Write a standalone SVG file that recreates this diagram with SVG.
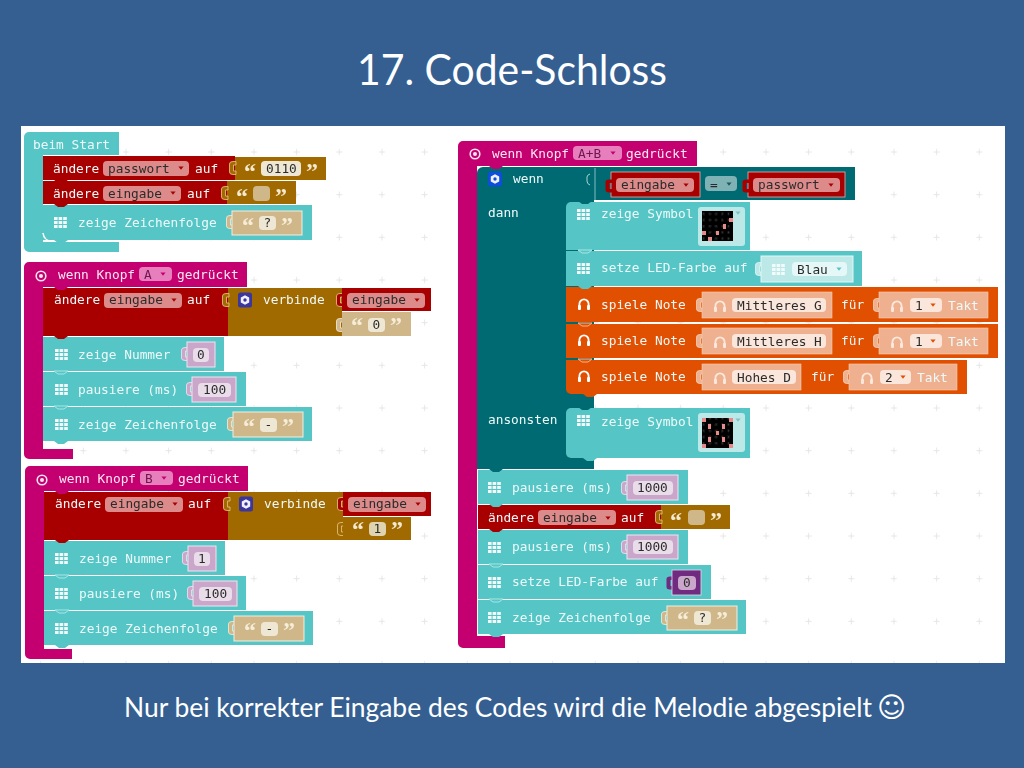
<svg xmlns="http://www.w3.org/2000/svg" width="1024" height="768" viewBox="0 0 1024 768">
<style>
text{font-family:"DejaVu Sans Mono","Liberation Mono",monospace;font-size:12.8px}
.l{fill:#eefafa}
.d{fill:#2c2c2c}
.pk{fill:#f9e6f2}
.q{font-family:"Liberation Serif",serif;font-weight:bold;font-size:24px;fill:#f4ead2}
.qd{font-family:"Liberation Serif",serif;font-weight:bold;font-size:24px;fill:#f6edd8}
.slide{font-family:Lato,"Open Sans",sans-serif;fill:#fff}
.teal{fill:#55c5c6}
.red{fill:#a80000}
.brown{fill:#a06b03}
.tan{fill:#cfb78a;stroke:#f2eee0;stroke-width:1}
.tanp{fill:#cfb78a}
.mag{fill:#c4006f}
.dk{fill:#006b72}
.or{fill:#e14f02}
.pink{fill:#dc8a8a}
.pill{fill:#eee7d3}
.pill2{fill:#e9dde9}
.pur{fill:#c9a6ca;stroke:#f0e6f0;stroke-width:1}
.sal{fill:#eeb08e;stroke:#f6d0b8;stroke-width:.6}
.salp{fill:#fae6da}
.led{fill:#e98a8a}
</style>
<defs>
<filter id="soft" x="0" y="0" width="100%" height="100%"><feGaussianBlur stdDeviation="0.35"/></filter>
<pattern id="plus" width="42.667" height="42.667" patternUnits="userSpaceOnUse" patternTransform="translate(19.3 2.67)">
<path d="M21.33 18.3v6M18.3 21.33h6" stroke="#e6e6e6" stroke-width="1" fill="none"/>
</pattern>
<pattern id="ledoff" width="6.2" height="6.2" patternUnits="userSpaceOnUse">
<rect x="2.4" y="2" width="1.4" height="2" fill="#3a3a3a"/>
</pattern>
<g id="gi" fill="#f2fbfb"><rect x="0" y="0" width="3.6" height="3"/><rect x="4.6" y="0" width="3.6" height="3"/><rect x="9.2" y="0" width="3.6" height="3"/><rect x="0" y="4" width="3.6" height="3"/><rect x="4.6" y="4" width="3.6" height="3"/><rect x="9.2" y="4" width="3.6" height="3"/><rect x="0" y="8" width="3.6" height="3"/><rect x="4.6" y="8" width="3.6" height="3"/><rect x="9.2" y="8" width="3.6" height="3"/></g>
<g id="hp"><path d="M-4.6 3V0a4.6 4.6 0 0 1 9.2 0V3" stroke-width="1.8" fill="none"/><rect x="-6" y="1" width="3" height="5" rx="1" stroke="none"/><rect x="3" y="1" width="3" height="5" rx="1" stroke="none"/></g>
<path id="nip" d="M2 0 6 3H12L16 0Z"/>
<path id="tab" d="M1-6.500H-2Q-5.500-6.500-5.500-4V4Q-5.500 6.500-2 6.500H1V3H-1.500V-3H1Z"/>
<path id="ar" d="M-2.600-1.600H2.600L0 1.800Z"/>
<g id="tgt"><circle r="4.800" fill="none" stroke="#f9e6f2" stroke-width="1.600"/><circle r="2" fill="#f9e6f2"/></g>
<g id="gear"><rect x="-7" y="-7.500" width="14" height="15" rx="2.500"/><path d="M0-4.800 4.200-2.400V2.400L0 4.800-4.200 2.400V-2.400Z" fill="#f0f0ff"/><circle r="1.700"/></g>
</defs>

<rect id="background" width="1024" height="768" fill="#355f91"/>
<text id="title" class="slide" x="357" y="85" textLength="310" lengthAdjust="spacingAndGlyphs" style="font-size:42px">17. Code-Schloss</text>
<g id="panel">
<rect x="21" y="126" width="984" height="537" fill="#fff"/>
<rect x="21" y="126" width="984" height="537" fill="url(#plus)"/>
</g>

<g id="blocks" filter="url(#soft)">
<g id="start">
<path class="teal" d="M24 137a5 5 0 0 1 5-5H119V155H43V242H119V252H29a5 5 0 0 1-5-5Z"/>
<text class="l" x="33" y="149">beim Start</text>
<rect class="red" x="43" y="156" width="192" height="24"/>
<rect class="brown" x="235" y="157" width="91" height="23"/>
<rect class="pink" x="103" y="161" width="86" height="15" rx="4"/>
<text class="l" x="53" y="173">ändere</text><text class="d" x="108" y="173">passwort</text><use href="#ar" x="181" y="168" fill="#a80000"/><text class="l" x="195" y="173">auf</text>
<use href="#tab" x="235" y="168" fill="#a06b03" stroke="#e8c88a" stroke-width=".8"/>
<text class="q" x="244" y="179">“</text><rect class="pill" x="261" y="161" width="40" height="15" rx="4"/><text class="d" x="266" y="173">0110</text><text class="q" x="306" y="179">”</text>
<rect class="red" x="43" y="181" width="184" height="23"/>
<rect class="brown" x="227" y="181" width="69" height="23"/>
<rect class="pink" x="103" y="186" width="78" height="15" rx="4"/>
<text class="l" x="53" y="198">ändere</text><text class="d" x="108" y="198">eingabe</text><use href="#ar" x="173" y="193" fill="#a80000"/><text class="l" x="187" y="198">auf</text>
<use href="#tab" x="227" y="193" fill="#a06b03" stroke="#e8c88a" stroke-width=".8"/>
<text class="q" x="236" y="204">“</text><rect class="pill" x="253" y="186" width="17" height="15" rx="4" style="fill:#cfb78a"/><text class="q" x="275" y="204">”</text>
<use href="#nip" x="52" y="180" fill="#a80000"/>
<rect class="teal" x="43" y="205" width="269" height="35"/>
<use href="#nip" x="52" y="204" fill="#a80000"/>
<use href="#gi" x="54" y="217"/>
<text class="l" x="78" y="227">zeige Zeichenfolge</text>
<use href="#tab" x="232" y="222" fill="#cfb78a" stroke="#f2eee0" stroke-width=".8"/>
<rect class="tan" x="232" y="211" width="70" height="24"/>
<text class="qd" x="242" y="233">“</text><rect class="pill" x="259" y="216" width="17" height="14" rx="4"/><text class="d" x="263.500" y="227">?</text><text class="qd" x="281" y="233">”</text>
<path d="M43 233Q44 241 52 241H60" fill="none" stroke="#fff" stroke-width="1.500"/>
<use href="#nip" x="52" y="240" fill="#55c5c6"/>
</g>

<g id="knopf-a">
<path class="mag" d="M24 267a5 5 0 0 1 5-5H247V287H43V449H73V459H29a5 5 0 0 1-5-5Z"/>
<use href="#tgt" x="41" y="276"/>
<text class="pk" x="58" y="279">wenn Knopf</text>
<rect x="139" y="267" width="33" height="14" rx="4" fill="#e87fbd"/><text x="144" y="279" fill="#70164f">A</text><use href="#ar" x="163" y="274" fill="#c4006f"/>
<text class="pk" x="177" y="279">gedrückt</text>
<rect class="red" x="43" y="288" width="185" height="48"/>
<rect class="brown" x="228" y="288" width="114" height="48"/>
<use href="#nip" x="52" y="287" fill="#c4006f"/>
<rect class="pink" x="104" y="293" width="78" height="15" rx="4"/>
<text class="l" x="54" y="304">ändere</text><text class="d" x="109" y="304">eingabe</text><use href="#ar" x="174" y="300" fill="#a80000"/><text class="l" x="187" y="304">auf</text>
<use href="#tab" x="228" y="300" fill="#a06b03" stroke="#e8c88a" stroke-width=".8"/>
<use href="#gear" x="245" y="300" fill="#3a349e"/>
<text class="l" x="263" y="304">verbinde</text>
<use href="#tab" x="342" y="300" fill="#a80000" stroke="#e8c88a" stroke-width=".8"/>
<rect class="red" x="342" y="288" width="89" height="23"/>
<rect class="pink" x="347" y="293" width="78" height="15" rx="4"/>
<text class="d" x="352" y="304">eingabe</text><use href="#ar" x="417" y="300" fill="#a80000"/>
<use href="#tab" x="342" y="325" fill="#cfb78a" stroke="#f2eee0" stroke-width=".8"/>
<rect class="tanp" x="342" y="312" width="69" height="24"/>
<text class="qd" x="351" y="333">“</text><rect class="pill" x="368" y="318" width="17" height="14" rx="4"/><text class="d" x="372.500" y="329">0</text><text class="qd" x="390" y="333">”</text>
<rect class="teal" x="43" y="337" width="181" height="34"/>
<use href="#nip" x="52" y="336" fill="#a80000"/>
<use href="#gi" x="55" y="349"/>
<text class="l" x="78" y="359">zeige Nummer</text>
<use href="#tab" x="187" y="354" fill="#c9a6ca" stroke="#f0e6f0" stroke-width=".8"/>
<rect class="pur" x="187" y="342" width="28" height="25"/><rect class="pill2" x="193" y="348" width="16" height="14" rx="4"/><text class="d" x="197" y="359">0</text>
<rect class="teal" x="43" y="372" width="203" height="34"/>
<use href="#nip" x="52" y="371" fill="#55c5c6" stroke="#a9e6e6"/>
<use href="#gi" x="55" y="384"/>
<text class="l" x="78" y="394">pausiere (ms)</text>
<use href="#tab" x="192" y="389" fill="#c9a6ca" stroke="#f0e6f0" stroke-width=".8"/>
<rect class="pur" x="192" y="377" width="44" height="25"/><rect class="pill2" x="198" y="383" width="33" height="14" rx="4"/><text class="d" x="203" y="394">100</text>
<rect class="teal" x="43" y="407" width="269" height="34"/>
<use href="#nip" x="52" y="406" fill="#55c5c6" stroke="#a9e6e6"/>
<use href="#gi" x="55" y="419"/>
<text class="l" x="78" y="429">zeige Zeichenfolge</text>
<use href="#tab" x="233" y="424" fill="#cfb78a" stroke="#f2eee0" stroke-width=".8"/>
<rect class="tan" x="233" y="412" width="70" height="25"/>
<text class="qd" x="243" y="434">“</text><rect class="pill" x="260" y="418" width="17" height="14" rx="4"/><text class="d" x="264.500" y="429">-</text><text class="qd" x="282" y="434">”</text>
<use href="#nip" x="52" y="441" fill="#55c5c6"/>
</g>

<g id="knopf-b">
<path class="mag" d="M25 471a5 5 0 0 1 5-5H248V491H44V649H72V659H30a5 5 0 0 1-5-5Z"/>
<use href="#tgt" x="42" y="480"/>
<text class="pk" x="59" y="483">wenn Knopf</text>
<rect x="140" y="471" width="33" height="14" rx="4" fill="#e87fbd"/><text x="145" y="483" fill="#70164f">B</text><use href="#ar" x="164" y="478" fill="#c4006f"/>
<text class="pk" x="178" y="483">gedrückt</text>
<rect class="red" x="44" y="492" width="184" height="48"/>
<rect class="brown" x="228" y="492" width="115" height="48"/>
<use href="#nip" x="53" y="491" fill="#c4006f"/>
<rect class="pink" x="105" y="497" width="78" height="15" rx="4"/>
<text class="l" x="55" y="508">ändere</text><text class="d" x="110" y="508">eingabe</text><use href="#ar" x="175" y="504" fill="#a80000"/><text class="l" x="188" y="508">auf</text>
<use href="#tab" x="229" y="504" fill="#a06b03" stroke="#e8c88a" stroke-width=".8"/>
<use href="#gear" x="246" y="504" fill="#3a349e"/>
<text class="l" x="264" y="508">verbinde</text>
<use href="#tab" x="343" y="504" fill="#a80000" stroke="#e8c88a" stroke-width=".8"/>
<rect class="red" x="343" y="492" width="88" height="24"/>
<rect class="pink" x="348" y="497" width="78" height="15" rx="4"/>
<text class="d" x="353" y="508">eingabe</text><use href="#ar" x="418" y="504" fill="#a80000"/>
<use href="#tab" x="343" y="529" fill="#a06b03" stroke="#e8c88a" stroke-width=".8"/>
<rect class="brown" x="343" y="517" width="68" height="23"/>
<text class="q" x="352" y="537">“</text><rect class="pill" x="369" y="522" width="17" height="14" rx="4" style="fill:#e0d4b0"/><text class="d" x="373.500" y="533">1</text><text class="q" x="391" y="537">”</text>
<rect class="teal" x="44" y="541" width="181" height="34"/>
<use href="#nip" x="53" y="540" fill="#a80000"/>
<use href="#gi" x="55" y="553"/>
<text class="l" x="79" y="563">zeige Nummer</text>
<use href="#tab" x="188" y="558" fill="#c9a6ca" stroke="#f0e6f0" stroke-width=".8"/>
<rect class="pur" x="188" y="546" width="28" height="25"/><rect class="pill2" x="194" y="552" width="16" height="14" rx="4"/><text class="d" x="198" y="563">1</text>
<rect class="teal" x="44" y="576" width="202" height="34"/>
<use href="#nip" x="53" y="575" fill="#55c5c6" stroke="#a9e6e6"/>
<use href="#gi" x="55" y="588"/>
<text class="l" x="79" y="598">pausiere (ms)</text>
<use href="#tab" x="193" y="593" fill="#c9a6ca" stroke="#f0e6f0" stroke-width=".8"/>
<rect class="pur" x="193" y="581" width="44" height="25"/><rect class="pill2" x="199" y="587" width="33" height="14" rx="4"/><text class="d" x="204" y="598">100</text>
<rect class="teal" x="44" y="611" width="269" height="34"/>
<use href="#nip" x="53" y="610" fill="#55c5c6" stroke="#a9e6e6"/>
<use href="#gi" x="55" y="623"/>
<text class="l" x="79" y="633">zeige Zeichenfolge</text>
<use href="#tab" x="234" y="628" fill="#cfb78a" stroke="#f2eee0" stroke-width=".8"/>
<rect class="tan" x="234" y="616" width="70" height="25"/>
<text class="qd" x="244" y="638">“</text><rect class="pill" x="261" y="622" width="17" height="14" rx="4"/><text class="d" x="265.500" y="633">-</text><text class="qd" x="283" y="638">”</text>
<use href="#nip" x="53" y="645" fill="#55c5c6"/>
</g>

<g id="knopf-ab">
<path class="mag" d="M458 146a5 5 0 0 1 5-5H697V166H477V636H505V648H463a5 5 0 0 1-5-5Z"/>
<use href="#tgt" x="475" y="154"/>
<text class="pk" x="492" y="158">wenn Knopf</text>
<rect x="573" y="146" width="49" height="14" rx="4" fill="#e87fbd"/><text x="578" y="158" fill="#70164f">A+B</text><use href="#ar" x="613" y="153" fill="#c4006f"/>
<text class="pk" x="626" y="158">gedrückt</text>
</g>

<g id="wenn">
<path class="dk" d="M483 167H855V200H594V469H477V173a6 6 0 0 1 6-6Z"/>
<use href="#nip" x="487" y="166" fill="#c4006f"/>
<path d="M595 168V200" stroke="#9fd0d0" stroke-width=".8"/>
<use href="#gear" x="495" y="179" fill="#0a4fd8"/>
<text class="l" x="513" y="183">wenn</text>
<path d="M590 174q-3 1-3 3v4q0 3 3 4" fill="none" stroke="#a9d4d4" stroke-width="1"/>
<rect class="red" x="611" y="172" width="89" height="25" stroke="#e3b0b0" stroke-width=".8"/>
<use href="#tab" x="611" y="186" fill="#a80000"/>
<rect class="pink" x="616" y="178" width="78" height="14" rx="4"/><text class="d" x="621" y="189">eingabe</text><use href="#ar" x="686" y="185" fill="#a80000"/>
<rect x="705" y="176" width="32" height="15" rx="4" fill="#7fb2b5"/><text class="d" x="710" y="189">=</text><use href="#ar" x="729" y="184" fill="#20595f"/>
<rect class="red" x="748" y="172" width="97" height="25" stroke="#e3b0b0" stroke-width=".8"/>
<use href="#tab" x="748" y="186" fill="#a80000"/>
<rect class="pink" x="753" y="178" width="87" height="14" rx="4"/><text class="d" x="758" y="189">passwort</text><use href="#ar" x="831" y="185" fill="#a80000"/>
<text class="l" x="488" y="217">dann</text>
<text class="l" x="488" y="424">ansonsten</text>
</g>

<g id="symbol-1">
<path class="teal" d="M571 202H750V250H566V207a5 5 0 0 1 5-5Z"/>
<use href="#nip" x="576" y="201" fill="#006b72"/>
<use href="#gi" x="577" y="209"/>
<text class="l" x="601" y="218">zeige Symbol</text>
<rect x="698" y="207" width="47" height="39" rx="3" fill="#bce8e8"/>
<rect x="702" y="211" width="31" height="30" fill="#050505"/>
<rect x="702" y="211" width="31" height="30" fill="url(#ledoff)"/>
<rect class="led" x="729" y="218" width="4" height="4"/><rect class="led" x="723" y="224" width="3" height="5"/><rect class="led" x="702" y="231" width="4" height="4"/><rect class="led" x="716" y="231" width="3" height="4"/><rect class="led" x="708" y="237" width="4" height="4"/>
<use href="#ar" x="738" y="213" fill="#7cc4c4"/>
</g>
<g id="led-blau">
<rect class="teal" x="566" y="251" width="296" height="35"/>
<use href="#nip" x="576" y="250" fill="#55c5c6" stroke="#a9e6e6"/>
<use href="#gi" x="577" y="263"/>
<text class="l" x="601" y="272">setze LED-Farbe auf</text>
<use href="#tab" x="761" y="269" fill="#bce8e8" stroke="#e0f6f6" stroke-width=".8"/>
<rect x="761" y="256" width="92" height="26" fill="#bce8e8" stroke="#e4f8f8"/>
<use href="#gi" x="772" y="264"/>
<rect x="792" y="262" width="55" height="14" rx="4" fill="#e6f7f7"/><text class="d" x="797" y="274">Blau</text><use href="#ar" x="839" y="269" fill="#55c5c6"/>
</g>
<g id="note-g">
<rect class="or" x="566" y="287" width="432" height="35"/>
<use href="#nip" x="576" y="286" fill="#55c5c6"/>
<use href="#hp" x="584" y="304" stroke="#fff" fill="#fff"/>
<text class="l" x="601" y="309">spiele Note</text>
<use href="#tab" x="702" y="305" fill="#eeb08e" stroke="#f6d0b8" stroke-width=".8"/>
<rect class="sal" x="702" y="292" width="130" height="26"/>
<use href="#hp" x="720" y="306" stroke="#fbe8dc" fill="#fbe8dc"/>
<rect class="salp" x="732" y="298" width="94" height="14" rx="4"/><text class="d" x="737" y="310">Mittleres G</text>
<text class="l" x="841" y="309">für</text>
<use href="#tab" x="879" y="305" fill="#eeb08e" stroke="#f6d0b8" stroke-width=".8"/>
<rect class="sal" x="879" y="292" width="109" height="26"/>
<use href="#hp" x="897" y="306" stroke="#fbe8dc" fill="#fbe8dc"/>
<rect class="salp" x="910" y="298" width="32" height="14" rx="4"/><text class="d" x="915" y="310">1</text><use href="#ar" x="933" y="305" fill="#e14f02"/>
<text class="l" x="948" y="310">Takt</text>
</g>
<g id="note-h">
<rect class="or" x="566" y="324" width="432" height="34"/>
<use href="#nip" x="576" y="323" fill="#e14f02" stroke="#f7b48c"/>
<use href="#hp" x="584" y="340" stroke="#fff" fill="#fff"/>
<text class="l" x="601" y="345">spiele Note</text>
<use href="#tab" x="702" y="341" fill="#eeb08e" stroke="#f6d0b8" stroke-width=".8"/>
<rect class="sal" x="702" y="328" width="130" height="26"/>
<use href="#hp" x="720" y="342" stroke="#fbe8dc" fill="#fbe8dc"/>
<rect class="salp" x="732" y="334" width="94" height="14" rx="4"/><text class="d" x="737" y="346">Mittleres H</text>
<text class="l" x="841" y="345">für</text>
<use href="#tab" x="879" y="341" fill="#eeb08e" stroke="#f6d0b8" stroke-width=".8"/>
<rect class="sal" x="879" y="328" width="109" height="26"/>
<use href="#hp" x="897" y="342" stroke="#fbe8dc" fill="#fbe8dc"/>
<rect class="salp" x="910" y="334" width="32" height="14" rx="4"/><text class="d" x="915" y="346">1</text><use href="#ar" x="933" y="341" fill="#e14f02"/>
<text class="l" x="948" y="346">Takt</text>
</g>
<g id="note-d">
<path class="or" d="M566 360H967V394H571a5 5 0 0 1-5-5Z"/>
<use href="#nip" x="576" y="359" fill="#e14f02" stroke="#f7b48c"/>
<use href="#nip" x="581" y="394" fill="#e14f02"/>
<use href="#hp" x="584" y="376" stroke="#fff" fill="#fff"/>
<text class="l" x="601" y="381">spiele Note</text>
<use href="#tab" x="702" y="377" fill="#eeb08e" stroke="#f6d0b8" stroke-width=".8"/>
<rect class="sal" x="702" y="364" width="99" height="26"/>
<use href="#hp" x="720" y="378" stroke="#fbe8dc" fill="#fbe8dc"/>
<rect class="salp" x="732" y="370" width="64" height="14" rx="4"/><text class="d" x="737" y="382">Hohes D</text>
<text class="l" x="811" y="381">für</text>
<use href="#tab" x="849" y="377" fill="#eeb08e" stroke="#f6d0b8" stroke-width=".8"/>
<rect class="sal" x="849" y="364" width="108" height="26"/>
<use href="#hp" x="867" y="378" stroke="#fbe8dc" fill="#fbe8dc"/>
<rect class="salp" x="880" y="370" width="31" height="14" rx="4"/><text class="d" x="885" y="382">2</text><use href="#ar" x="903" y="377" fill="#e14f02"/>
<text class="l" x="917" y="382">Takt</text>
</g>
<g id="symbol-2">
<path class="teal" d="M571 408H750V458H571a5 5 0 0 1-5-5V413a5 5 0 0 1 5-5Z"/>
<use href="#nip" x="576" y="407" fill="#006b72"/>
<use href="#nip" x="581" y="458" fill="#55c5c6"/>
<use href="#gi" x="577" y="415"/>
<text class="l" x="601" y="426">zeige Symbol</text>
<rect x="698" y="413" width="47" height="39" rx="3" fill="#bce8e8"/>
<rect x="702" y="418" width="31" height="30" fill="#050505"/>
<rect x="702" y="418" width="31" height="30" fill="url(#ledoff)"/>
<rect class="led" x="702" y="418" width="4" height="4"/><rect class="led" x="729" y="418" width="4" height="4"/><rect class="led" x="708" y="424" width="3" height="5"/><rect class="led" x="722" y="424" width="3" height="5"/><rect class="led" x="716" y="431" width="3" height="4"/><rect class="led" x="708" y="437" width="3" height="5"/><rect class="led" x="722" y="437" width="3" height="5"/><rect class="led" x="702" y="444" width="4" height="4"/><rect class="led" x="729" y="444" width="4" height="4"/>
<use href="#ar" x="738" y="420" fill="#7cc4c4"/>
</g>
<g id="ab-rest">
<rect class="teal" x="478" y="470" width="210" height="34"/>
<use href="#nip" x="487" y="469" fill="#006b72"/>
<use href="#gi" x="488" y="482"/>
<text class="l" x="512" y="492">pausiere (ms)</text>
<use href="#tab" x="627" y="488" fill="#c9a6ca" stroke="#f0e6f0" stroke-width=".8"/>
<rect class="pur" x="627" y="475" width="51" height="25"/><rect class="pill2" x="633" y="481" width="40" height="14" rx="4"/><text class="d" x="637" y="492">1000</text>
<rect class="red" x="478" y="505" width="183" height="24"/>
<rect class="brown" x="661" y="505" width="69" height="24"/>
<use href="#nip" x="487" y="504" fill="#55c5c6"/>
<rect class="pink" x="538" y="510" width="78" height="15" rx="4"/>
<text class="l" x="488" y="522">ändere</text><text class="d" x="543" y="522">eingabe</text><use href="#ar" x="608" y="518" fill="#a80000"/><text class="l" x="621" y="522">auf</text>
<use href="#tab" x="661" y="517" fill="#a06b03" stroke="#e8c88a" stroke-width=".8"/>
<text class="q" x="670" y="528">“</text><rect x="688" y="510" width="17" height="15" rx="4" fill="#cfb78a"/><text class="q" x="710" y="528">”</text>
<rect class="teal" x="478" y="530" width="210" height="34"/>
<use href="#nip" x="487" y="529" fill="#a80000"/>
<use href="#gi" x="488" y="542"/>
<text class="l" x="512" y="551">pausiere (ms)</text>
<use href="#tab" x="627" y="547" fill="#c9a6ca" stroke="#f0e6f0" stroke-width=".8"/>
<rect class="pur" x="627" y="535" width="51" height="24"/><rect class="pill2" x="633" y="540" width="40" height="14" rx="4"/><text class="d" x="637" y="551">1000</text>
<rect class="teal" x="478" y="565" width="233" height="34"/>
<use href="#nip" x="487" y="564" fill="#55c5c6" stroke="#a9e6e6"/>
<use href="#gi" x="488" y="577"/>
<text class="l" x="512" y="586">setze LED-Farbe auf</text>
<use href="#tab" x="672" y="583" fill="#6f2a80"/>
<rect x="672" y="570" width="29" height="25" fill="#6f2a80" stroke="#e8dcec" stroke-width=".8"/><rect x="678" y="576" width="18" height="14" rx="4" fill="#c9a6ca"/><text class="d" x="683" y="587">0</text>
<rect class="teal" x="478" y="600" width="268" height="34"/>
<use href="#nip" x="487" y="599" fill="#55c5c6" stroke="#a9e6e6"/>
<use href="#gi" x="488" y="612"/>
<text class="l" x="512" y="622">zeige Zeichenfolge</text>
<use href="#tab" x="667" y="618" fill="#cfb78a" stroke="#f2eee0" stroke-width=".8"/>
<rect class="tan" x="667" y="606" width="70" height="24"/>
<text class="qd" x="677" y="627">“</text><rect class="pill" x="694" y="611" width="17" height="14" rx="4"/><text class="d" x="698.500" y="622">?</text><text class="qd" x="716" y="627">”</text>
<use href="#nip" x="487" y="634" fill="#55c5c6"/>
</g>
</g>

<text id="caption" class="slide" x="124" y="717" textLength="748" lengthAdjust="spacingAndGlyphs" style="font-size:26px">Nur bei korrekter Eingabe des Codes wird die Melodie abgespielt</text>
<text id="smiley" x="877" y="717" fill="#fff" style="font-family:'DejaVu Sans',sans-serif;font-size:28px">☺</text>
</svg>
